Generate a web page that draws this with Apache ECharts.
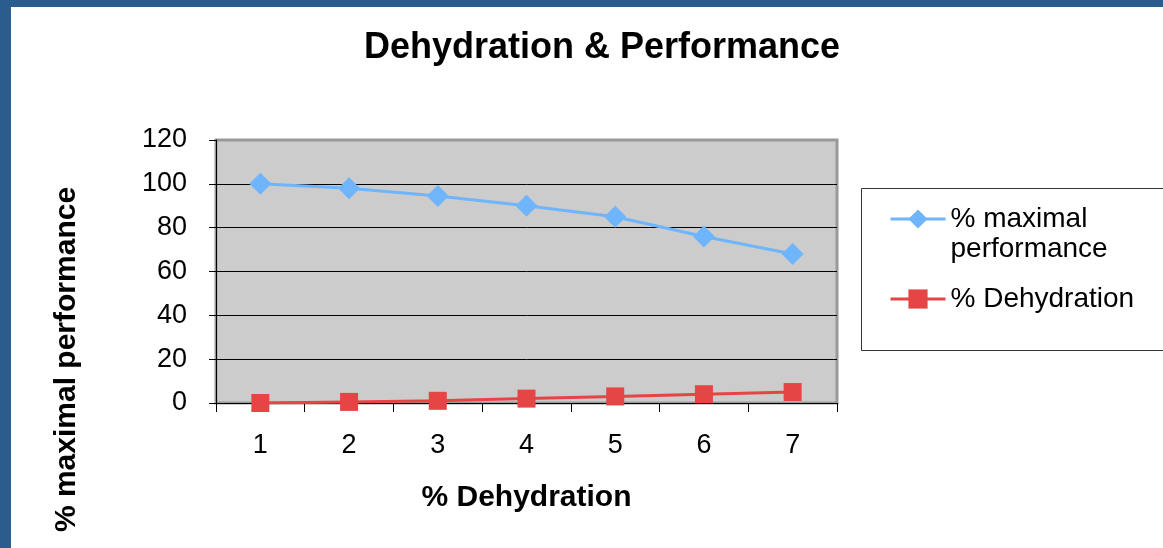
<!DOCTYPE html>
<html>
<head>
<meta charset="utf-8">
<script src="https://cdn.jsdelivr.net/npm/echarts@6/dist/echarts.min.js"></script>
<style>
  html, body { margin: 0; padding: 0; background: #2a5c8e; }
  #frame { position: absolute; left: 11px; top: 7px; right: 0; bottom: 0; background: #fff; }
  #main { position: absolute; left: 0; top: 0; width: 1163px; height: 548px; }
</style>
</head>
<body>
<div id="frame"></div>
<div id="main"></div>
<script>
// values
var dehydrationSteps = ['1', '2', '3', '4', '5', '6', '7'];
var maximalPerformance = [100, 98, 94.5, 90, 85, 76, 68];
var dehydrationPct = [0, 0.5, 1, 2, 3, 4, 5];
var yTicks = { min: 0, max: 120, interval: 20 };

var chartDom = document.getElementById('main');
var myChart = echarts.init(chartDom);
var font = 'Liberation Sans, Arial, sans-serif';

var option = {
  animation: false,
  textStyle: { fontFamily: font },
  title: {
    text: 'Dehydration & Performance',
    left: 597,
    textAlign: 'center',
    top: 25,
    textStyle: { fontSize: 36, fontWeight: 'bold', color: '#000', fontFamily: font }
  },
  // legend frame (the legend itself has no border so the first icon can sit on line one)
  graphic: [{
    type: 'rect',
    z: 0,
    shape: { x: 861.5, y: 188.5, width: 400, height: 162 },
    style: { fill: '#fff', stroke: '#333', lineWidth: 1 }
  }],
  legend: {
    orient: 'vertical',
    left: 889,
    top: 174,
    padding: 0,
    itemWidth: 55,
    itemHeight: 24,
    itemGap: 20,
    lineStyle: { width: 3 },
    textStyle: { fontSize: 28, color: '#000', fontFamily: font, lineHeight: 30 },
    formatter: function (name) {
      // leading empty line keeps the icon level with "% maximal"
      return name === '% maximal performance' ? '\n% maximal\nperformance' : name;
    },
    data: ['% maximal performance', '% Dehydration']
  },
  grid: {
    left: 216,
    top: 140,
    right: 326,
    bottom: 145,
    show: true,
    backgroundColor: '#cccccc',
    borderColor: '#999',
    borderWidth: 3
  },
  xAxis: {
    type: 'category',
    data: dehydrationSteps,
    boundaryGap: true,
    name: '% Dehydration',
    nameLocation: 'middle',
    nameGap: 80,
    nameTextStyle: { fontSize: 30, fontWeight: 'bold', color: '#000', fontFamily: font },
    axisLine: { lineStyle: { color: '#000', width: 1 } },
    axisTick: { show: true, length: 9, lineStyle: { color: '#000' } },
    axisLabel: { fontSize: 27, color: '#000', margin: 29, fontFamily: font },
    splitLine: { show: false }
  },
  yAxis: {
    type: 'value',
    min: yTicks.min,
    max: yTicks.max,
    interval: yTicks.interval,
    name: '% maximal performance',
    nameLocation: 'middle',
    nameRotate: 90,
    nameGap: 134,
    nameTextStyle: {
      fontSize: 30, fontWeight: 'bold', color: '#000', fontFamily: font,
      padding: [0, 176, 0, 0]
    },
    axisLine: { show: true, lineStyle: { color: '#000', width: 1 } },
    axisTick: { show: true, length: 7, lineStyle: { color: '#000' } },
    axisLabel: { fontSize: 27, color: '#000', margin: 29, fontFamily: font, padding: [5, 0, 0, 0] },
    splitLine: { show: true, showMaxLine: false, lineStyle: { color: '#000', width: 1 } }
  },
  series: [
    {
      name: '% maximal performance',
      type: 'line',
      data: maximalPerformance,
      symbol: 'diamond',
      symbolSize: 22,
      itemStyle: { color: '#6fb5fb' },
      lineStyle: { color: '#6fb5fb', width: 3 }
    },
    {
      name: '% Dehydration',
      type: 'line',
      data: dehydrationPct,
      symbol: 'rect',
      symbolSize: 18,
      itemStyle: { color: '#e64545' },
      lineStyle: { color: '#e64545', width: 3 }
    }
  ]
};

option && myChart.setOption(option);
</script>
</body>
</html>
